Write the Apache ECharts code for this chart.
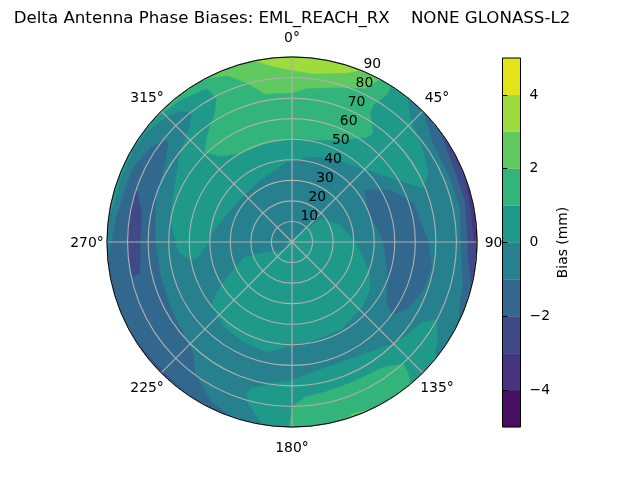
<!DOCTYPE html>
<html>
<head>
<meta charset="utf-8">
<style>html,body{margin:0;padding:0;background:#fff}#chart{width:640px;height:480px}</style>
<script src="https://cdn.jsdelivr.net/npm/echarts@6/dist/echarts.min.js"></script>
</head>
<body>
<div id="chart"></div>
<script>
const titleText = 'Delta Antenna Phase Biases: EML_REACH_RX    NONE GLONASS-L2';
const levels = [-5,-4,-3,-2,-1,0,1,2,3,4,5];
const bandColors = ['#471063','#47337e','#3f4a89','#32678e','#26808e','#1f9a8a','#33b47a','#60ca60','#9edb3c','#e2e318'];
const radiusTicks = [10,20,30,40,50,60,70,80,90];
const angleTicks = [0,45,90,135,180,225,270,315];
const colorbarTicks = [-4,-2,0,2,4];

// Filled contour outlines: [azimuth deg, zenith deg]
const fullDisc = [[0,90],[360,90]];
const westBand = [[200,90],[265,90],[270,87.7],[278.2,86.2],[283.9,85.3],[295.3,85.5],[304.2,82.5],[309.1,78.6],[308.1,76.5],[302.3,73.1],[297.2,71.3],[289.7,70.3],[280.5,67.8],[270,66.6],[256.7,66],[242,67.2],[225.7,70.5],[221.6,72.4],[216.5,79.4],[207.4,86.6]];
const westPocket = [[288.5,79.7],[280.8,74.4],[270,73.9],[258.4,75.5],[257.7,79],[263.7,80.1],[270,80.1],[276.5,80.2],[283.6,80.2]];
const southwestSliver = [[216,90],[238,90],[227,89]];
const eastBand = [[45.5,90],[115,90],[110,87],[104,85.7],[96,83],[90,82.2],[78.2,83.5],[67.6,83],[54.9,83.8]];
const eastInner = [[53.6,90],[104,90],[99,87.7],[95.4,86],[90,85.6],[76.4,86.6],[66,86.6]];
const eastSliver = [[68,90],[92,90],[90,88.8],[78,88.6]];
const eastPocket = [[54.5,43.6],[62,54],[72.1,61.9],[89,66.1],[100,69],[110.1,67.9],[118.7,65.4],[125.9,60.6],[122.8,54.8],[111.6,50.2],[95,45.4],[84.2,43],[69.1,39.6]];
const southBlob = [[90,30.6],[111.7,40.8],[121.6,44.5],[133.4,46.7],[151.4,48.8],[169.8,49.3],[180,50.6],[193,54.9],[206,54],[218,53],[231.9,49.6],[236.6,43.9],[244.6,31.8],[251.9,25],[249.2,15],[213,4.7],[260,2],[350,1.5],[40,5],[48,7.3],[51.4,18.5],[70.5,24.8],[88,29.7]];
const northBand = [[67.6,68.9],[62.8,62.7],[53.6,55],[40.7,48.3],[26,45.5],[11.9,42.4],[356.2,39],[332.7,33.9],[301,33.4],[276.4,39.2],[271,39.9],[260.3,47],[260,50.4],[265,55.5],[271,56.9],[281.6,60.6],[296.8,63.7],[308.5,69.6],[318.4,74.8],[322.2,79.4],[319.5,84],[315,86.2],[307.9,88.6],[300,89.2],[291,89],[283.3,88.5],[277,90],[398.5,90],[39.2,89.2],[43.3,83.6],[54.9,77.8],[63.2,74.2]];
const southEdgeBand = [[128.5,90],[189,90],[191.4,86.7],[195.2,81.3],[196.7,76.8],[195.4,73.8],[187.5,69.3],[180,67],[166,63.3],[150.6,64],[136.4,69.2],[129,71.8],[121.3,74.7],[118.3,80],[123.9,85.4],[127.9,88]];
const northPlateau = [[311,90],[392.5,90],[32.8,85],[30.7,77.5],[31.2,73.2],[33.5,70.2],[36.6,65.8],[35.5,62.6],[25.2,54.8],[10,50.4],[1.7,50.4],[345.6,49.6],[329.6,50],[320,54.6],[316,61],[321,65.9],[329.1,73],[332.3,78.9],[331,85.5],[321.7,88]];
const southPlateau = [[140,90],[181,90],[179.5,79.3],[174.6,75.6],[167,74.7],[156.3,74.2],[143.9,75.4],[137.6,80.3],[138.5,85.3]];
const northHigh = [[332,90],[388.5,90],[25.4,82.8],[17.2,78.8],[5.5,75.1],[0,72.6],[349.7,73.3],[343.6,81.1],[338.6,87]];
const southHigh = [[154.4,90],[162.8,90],[160.3,88.5]];
const northPeak = [[348.4,90],[381.7,90],[18.4,86.8],[7.8,82.6],[0,83.5],[353.4,86.2]];

// Painted in this order; band is an index into bandColors
const regions = [
  {band:4, pts:fullDisc},
  {band:3, pts:westBand}, {band:2, pts:westPocket}, {band:2, pts:southwestSliver},
  {band:3, pts:eastBand}, {band:2, pts:eastInner}, {band:1, pts:eastSliver}, {band:3, pts:eastPocket},
  {band:5, pts:southBlob}, {band:5, pts:northBand}, {band:5, pts:southEdgeBand},
  {band:6, pts:northPlateau}, {band:6, pts:southPlateau},
  {band:7, pts:northHigh}, {band:7, pts:southHigh},
  {band:8, pts:northPeak}
];

// Points on the outer circle follow the rim of the plot
function outline(pts){
  const out = [];
  for (let i = 0; i < pts.length; i++) {
    const a = pts[i], b = pts[(i + 1) % pts.length];
    out.push(a);
    if (a[1] === 90 && b[1] === 90 && b[0] > a[0]) {
      for (let t = a[0] + 2; t < b[0]; t += 2) out.push([t, 90]);
    }
  }
  return out;
}

const font = 'DejaVu Sans';
const chart = echarts.init(document.getElementById('chart'), null, {renderer:'canvas', width:640, height:480});
chart.setOption({
  animation:false,
  backgroundColor:'#ffffff',
  textStyle:{fontFamily:font},
  title:{text:titleText, left:287, top:5, textAlign:'center',
    textStyle:{fontFamily:font, fontSize:16.67, fontWeight:'normal', color:'#000'}},
  polar:{center:[292,242], radius:185},
  angleAxis:{type:'value', min:0, max:360, interval:45, startAngle:90, clockwise:true, z:5,
    axisLine:{show:true, lineStyle:{color:'#000', width:1}},
    axisTick:{show:false},
    splitLine:{show:true, lineStyle:{color:'#b0b0b0', width:1.1}},
    axisLabel:{show:false}},
  radiusAxis:{type:'value', min:0, max:90, interval:10, z:4,
    axisLine:{show:false}, axisTick:{show:false}, axisLabel:{show:false},
    splitLine:{show:true, lineStyle:{color:'#b0b0b0', width:1.1}}},
  grid:{left:502.5, top:58, width:18, height:369, containLabel:false},
  xAxis:{type:'value', min:0, max:1, show:false},
  yAxis:{type:'value', min:-5, max:5, interval:1, position:'right', z:12,
    name:'Bias (mm)', nameLocation:'middle', nameRotate:90, nameGap:36,
    nameTextStyle:{fontFamily:font, fontSize:13.9, color:'#000'},
    axisLine:{show:false},
    axisTick:{show:true, length:4.9, customValues:colorbarTicks, lineStyle:{color:'#000', width:1}},
    splitLine:{show:false},
    axisLabel:{customValues:colorbarTicks, margin:9, padding:[2,0,0,0], fontFamily:font, fontSize:13.9, color:'#000',
      formatter:v => (v < 0 ? '\u2212' + Math.abs(v) : String(v))}},
  series:[
    {type:'custom', coordinateSystem:'polar', z:1, silent:true,
      data:regions.map(r => [r.pts[0][1], r.pts[0][0] % 360, r.band]),
      renderItem:(params, api) => {
        const reg = regions[params.dataIndex];
        const points = outline(reg.pts).map(p => api.coord([p[1], ((p[0] % 360) + 360) % 360]));
        const col = bandColors[reg.band];
        return {type:'polygon', shape:{points}, style:{fill:col, stroke:col, lineWidth:0.4}};
      }},
    {type:'scatter', coordinateSystem:'polar', z:8, silent:true, symbolSize:1,
      itemStyle:{color:'transparent', opacity:1},
      data:radiusTicks.map(r => [r, 22.5]),
      label:{show:true, position:'inside', offset:[9.5,-6.5], align:'center', verticalAlign:'middle',
        textBorderWidth:0, textBorderColor:'transparent',
        formatter:p => String(p.value[0]), fontFamily:font, fontSize:13.9, color:'#000'}},
    {type:'scatter', coordinateSystem:'polar', z:8, silent:true, symbolSize:1,
      itemStyle:{color:'transparent', opacity:1},
      data:angleTicks.map(a => {
        const t = a * Math.PI / 180;
        return {value:[90, a], label:{offset:[20 * Math.sin(t), -20 * Math.cos(t) + 1]}};
      }),
      label:{show:true, position:'inside', align:'center', verticalAlign:'middle',
        textBorderWidth:0, textBorderColor:'transparent',
        formatter:p => p.value[1] + '°', fontFamily:font, fontSize:13.9, color:'#000'}},
    {type:'custom', coordinateSystem:'cartesian2d', z:10, silent:true,
      data:bandColors.map((c, i) => [0, levels[i], levels[i + 1], i]),
      renderItem:(params, api) => {
        const a = api.coord([0, api.value(1)]), b = api.coord([1, api.value(2)]);
        const col = bandColors[api.value(3)];
        return {type:'rect', shape:{x:a[0], y:b[1], width:b[0]-a[0], height:a[1]-b[1]}, style:{fill:col, stroke:col, lineWidth:0.3}};
      }},
    {type:'custom', coordinateSystem:'cartesian2d', z:11, silent:true,
      data:[[0, levels[0], levels[levels.length - 1]]],
      renderItem:(params, api) => {
        const a = api.coord([0, api.value(1)]), b = api.coord([1, api.value(2)]);
        return {type:'rect', shape:{x:a[0], y:b[1], width:b[0]-a[0], height:a[1]-b[1]}, style:{fill:'none', stroke:'#000', lineWidth:1}};
      }}
  ]
});
</script>
</body>
</html>
